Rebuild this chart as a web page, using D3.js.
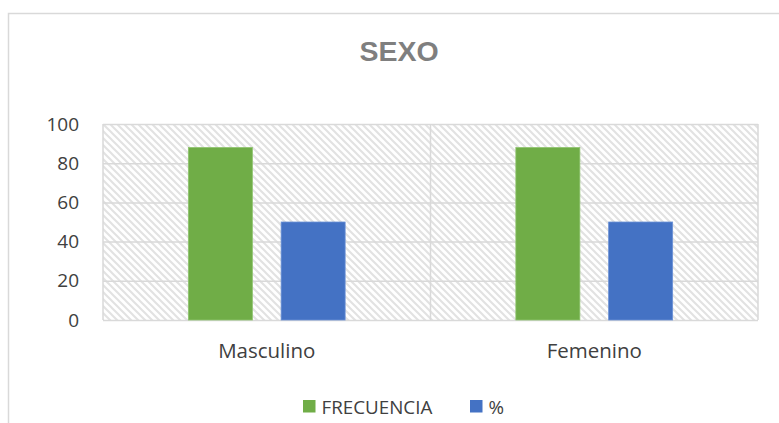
<!DOCTYPE html>
<html>
<head>
<meta charset="utf-8">
<script src="https://cdn.jsdelivr.net/npm/d3@7"></script>
<style>
  body { margin: 0; background: #fff; }
  svg text { font-family: "Open Sans", sans-serif; }
</style>
</head>
<body>
<svg id="svg" width="779" height="423"></svg>
<script>
// data
const categories = ["Masculino", "Femenino"];
const series = ["FRECUENCIA", "%"];
const frecuencia = [88, 88];
const porcentaje = [50, 50];
const yTicks = [0, 20, 40, 60, 80, 100];
const colors = ["#70ad47", "#4472c4"];

const values = [frecuencia, porcentaje];

const svg = d3.select("#svg");

// plot area bounds
const plotLeft = 103, plotRight = 758, plotTop = 124, plotBottom = 320;

// chart border (runs past the right and bottom edge)
svg.append("rect")
  .attr("x", 8.5).attr("y", 13.5)
  .attr("width", 820).attr("height", 440)
  .attr("fill", "#fff")
  .attr("stroke", "#d9d9d9")
  .attr("stroke-width", 1.5);

// hatch pattern for the plot background
const defs = svg.append("defs");
const pat = defs.append("pattern")
  .attr("id", "hatch")
  .attr("patternUnits", "userSpaceOnUse")
  .attr("width", 7).attr("height", 7);
pat.append("rect").attr("width", 7).attr("height", 7).attr("fill", "#fff");
pat.append("path")
  .attr("d", "M-1,-1 L8,8 M-1,6 L1,8 M6,-1 L8,1")
  .attr("stroke", "#e2e2e2")
  .attr("stroke-width", 2);

const x0 = d3.scaleBand()
  .domain(categories)
  .range([plotLeft, plotRight])
  .padding(0);

const x1 = d3.scaleBand()
  .domain(series)
  .range([0, x0.bandwidth()])
  .paddingInner(0.31)
  .paddingOuter(0.92);

const y = d3.scaleLinear()
  .domain([0, 100])
  .range([plotBottom, plotTop]);

svg.append("rect")
  .attr("x", plotLeft).attr("y", plotTop)
  .attr("width", plotRight - plotLeft).attr("height", plotBottom - plotTop)
  .attr("fill", "url(#hatch)");

// horizontal grid
svg.append("g")
  .attr("transform", `translate(${plotLeft},0)`)
  .call(d3.axisLeft(y).tickValues(yTicks).tickSize(-(plotRight - plotLeft)).tickFormat(""))
  .call(g => g.select(".domain").remove())
  .call(g => g.selectAll("line").attr("stroke", "#d9d9d9").attr("stroke-width", 1.5));

// vertical grid at category edges
const edges = categories.map(c => x0(c)).concat([plotRight]);
svg.append("g")
  .selectAll("line")
  .data(edges)
  .enter()
  .append("line")
  .attr("x1", d => d).attr("x2", d => d)
  .attr("y1", plotTop).attr("y2", plotBottom)
  .attr("stroke", "#d9d9d9")
  .attr("stroke-width", 1.5);

// y axis labels
svg.append("g")
  .attr("transform", `translate(${plotLeft},0)`)
  .call(d3.axisLeft(y).tickValues(yTicks).tickSize(0).tickPadding(24))
  .call(g => g.select(".domain").remove())
  .call(g => g.selectAll("text")
    .attr("fill", "#404040")
    .style("font-size", "19px"));

// bars
const groups = svg.append("g")
  .selectAll("g")
  .data(categories)
  .enter()
  .append("g")
  .attr("transform", c => `translate(${x0(c)},0)`);

groups.selectAll("rect")
  .data((c, i) => series.map((s, j) => ({ s: s, v: values[j][i], j: j })))
  .enter()
  .append("rect")
  .attr("x", d => x1(d.s))
  .attr("y", d => y(d.v))
  .attr("width", x1.bandwidth())
  .attr("height", d => plotBottom - y(d.v))
  .attr("fill", d => colors[d.j])
  .attr("stroke", d => d.j === 0 ? "#8fc46e" : "#6b92d6")
  .attr("stroke-width", 0.8);

// x axis labels
svg.append("g")
  .attr("transform", `translate(0,${plotBottom})`)
  .call(d3.axisBottom(x0).tickSize(0).tickPadding(23))
  .call(g => g.select(".domain").remove())
  .call(g => g.selectAll("text")
    .attr("fill", "#404040")
    .style("font-size", "20.5px"));

// title
svg.append("text")
  .attr("x", 399)
  .attr("y", 61)
  .attr("text-anchor", "middle")
  .attr("fill", "#7f7f7f")
  .style("font-family", "'Liberation Sans', Arial, sans-serif")
  .style("font-weight", "bold")
  .style("font-size", "28.5px")
  .text("SEXO");

// legend
const legendX = [303, 470];
const legend = svg.append("g")
  .selectAll("g")
  .data(series)
  .enter()
  .append("g")
  .attr("transform", (d, i) => `translate(${legendX[i]},400)`);

legend.append("rect")
  .attr("width", 12.5).attr("height", 12.5)
  .attr("fill", (d, i) => colors[i]);

legend.append("text")
  .attr("x", 18.5)
  .attr("y", 13.5)
  .attr("fill", "#404040")
  .style("font-size", "18.8px")
  .text(d => d);
</script>
</body>
</html>
